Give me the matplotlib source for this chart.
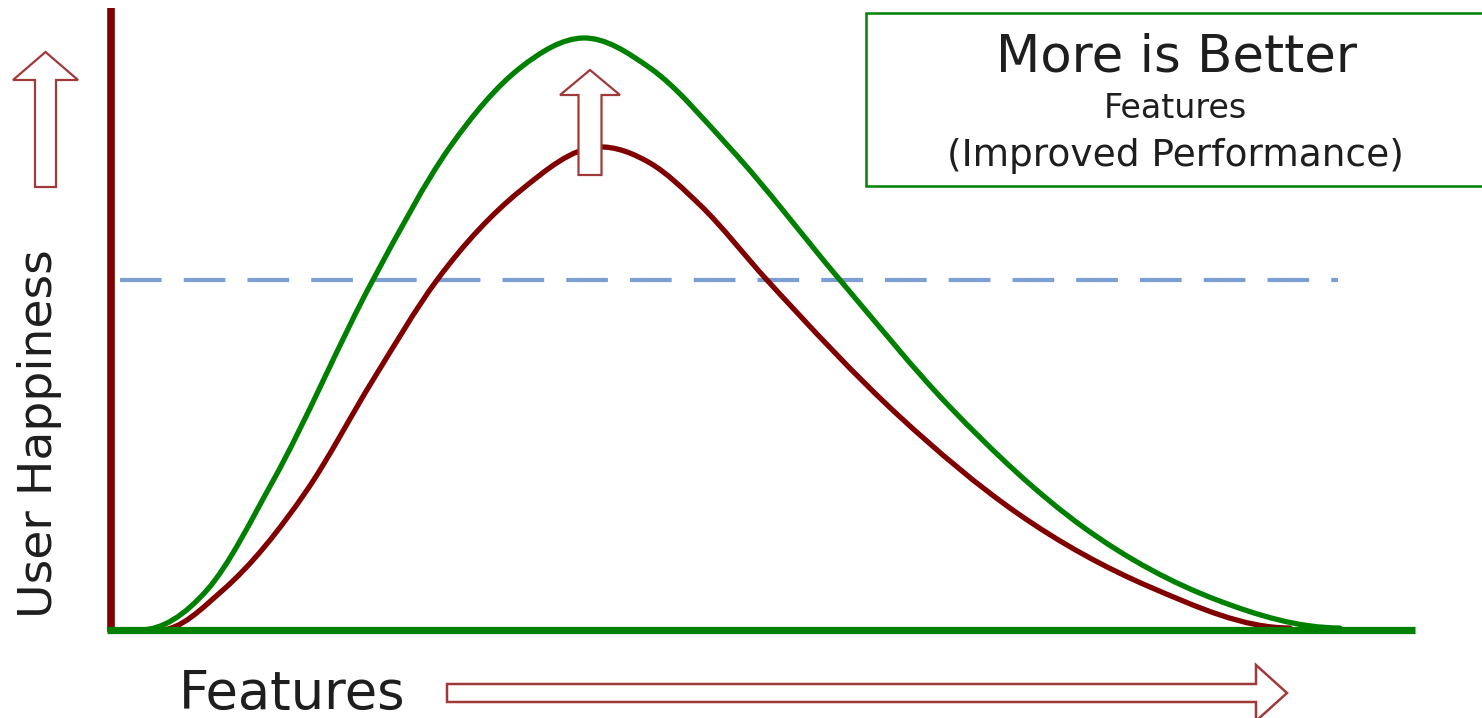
import matplotlib.pyplot as plt
from matplotlib.patches import Polygon, Rectangle, PathPatch
from matplotlib.path import Path
from matplotlib.transforms import IdentityTransform

plt.rcParams['font.family'] = ['DejaVu Sans']

# features vs. happiness (x: 0-100, y: 0-100)
features_old = [3.39, 8.25, 14.73, 19.81, 24.75, 31.15, 37.16, 41.17, 45.03,
                50.19, 60.45, 69.47, 79.72, 90.52]
happiness_old = [0.0, 6.47, 22.65, 40.45, 56.63, 71.04, 78.16, 75.57, 68.77,
                 56.63, 34.47, 18.93, 6.96, 0.32]

features_new = [1.85, 7.02, 12.10, 19.81, 25.75, 31.15, 36.01, 41.17, 47.34,
                55.82, 64.30, 74.56, 84.89, 94.37]
happiness_new = [0.0, 6.47, 24.11, 56.63, 78.16, 90.94, 95.79, 90.94, 77.99,
                 56.63, 36.08, 16.67, 4.85, 0.32]

threshold = 56.6

W, H = 1482, 718
DARK_RED = '#800000'
GREEN = '#008000'
ARROW_EDGE = '#a03a3a'
TEXT = '#1e1e1e'

fig = plt.figure(figsize=(W / 100, H / 100), dpi=100)
ax = fig.add_axes([0, 0, 1, 1])
ax.set_xlim(-8.944, 105.32)
ax.set_ylim(-14.24, 101.94)
ax.axis('off')


def smooth_path(xs, ys):
    # cubic Hermite through the read points, drawn as Bezier segments
    n = len(xs)
    h = [xs[i + 1] - xs[i] for i in range(n - 1)]
    d = [(ys[i + 1] - ys[i]) / h[i] for i in range(n - 1)]
    m = [0.0] * n
    for i in range(1, n - 1):
        m[i] = (h[i] * d[i - 1] + h[i - 1] * d[i]) / (h[i - 1] + h[i])
    verts = [(xs[0], ys[0])]
    codes = [Path.MOVETO]
    for i in range(n - 1):
        verts += [(xs[i] + h[i] / 3, ys[i] + m[i] * h[i] / 3),
                  (xs[i + 1] - h[i] / 3, ys[i + 1] - m[i + 1] * h[i] / 3),
                  (xs[i + 1], ys[i + 1])]
        codes += [Path.CURVE4] * 3
    return Path(verts, codes)


def px(x, y):
    # image pixels (y down) -> display pixels
    return (x, H - y)


def up_arrow(tip_x, tip_y, head_y, head_hw, shaft_hw, bottom_y):
    pts = [(tip_x, tip_y), (tip_x + head_hw, head_y), (tip_x + shaft_hw, head_y),
           (tip_x + shaft_hw, bottom_y), (tip_x - shaft_hw, bottom_y),
           (tip_x - shaft_hw, head_y), (tip_x - head_hw, head_y)]
    return Polygon([px(*p) for p in pts], closed=True, transform=IdentityTransform(),
                   facecolor='white', edgecolor=ARROW_EDGE, lw=1.6, joinstyle='miter')


def right_arrow(tail_x, mid_y, head_x, tip_x, head_hw, shaft_hw):
    pts = [(tip_x, mid_y), (head_x, mid_y - head_hw), (head_x, mid_y - shaft_hw),
           (tail_x, mid_y - shaft_hw), (tail_x, mid_y + shaft_hw),
           (head_x, mid_y + shaft_hw), (head_x, mid_y + head_hw)]
    return Polygon([px(*p) for p in pts], closed=True, transform=IdentityTransform(),
                   facecolor='white', edgecolor=ARROW_EDGE, lw=1.8, joinstyle='miter')


# threshold line
ax.hlines(threshold, 0.3, 94.2, colors='#7b9fd4', lw=3, linestyles=(0, (10, 5.3)),
          capstyle='butt', zorder=1)

# curves
ax.add_patch(PathPatch(smooth_path(features_old, happiness_old), fill=False,
                       edgecolor=DARK_RED, lw=3.8, capstyle='round', zorder=2))
fig.patches.append(up_arrow(590, 70, 95, 30, 11.5, 175))
ax.add_patch(PathPatch(smooth_path(features_new, happiness_new), fill=False,
                       edgecolor=GREEN, lw=3.8, capstyle='round', zorder=4))

# axes lines
ax.vlines(-0.39, -0.3, 100.6, colors=DARK_RED, lw=5.5, zorder=5)
ax.hlines(0, -0.69, 100.15, colors=GREEN, lw=5.2, zorder=6)

# decorative arrows
fig.patches.append(up_arrow(45.5, 52, 80, 32.5, 10.5, 187))
fig.patches.append(right_arrow(447, 693, 1256, 1287, 28, 9))

# labels
fig.text(40 / W, 1 - 434 / H, 'User Happiness', rotation=90, ha='center', va='center',
         fontsize=34, color=TEXT)
fig.text(292 / W, 1 - 688 / H, 'Features', ha='center', va='center_baseline',
         fontsize=38, color=TEXT)

# legend box
fig.patches.append(Rectangle(px(866, 186), 700, 173, transform=IdentityTransform(),
                             facecolor='white', edgecolor=GREEN, lw=1.8))
fig.text(1177 / W, 1 - 52 / H, 'More is Better', ha='center', va='center_baseline',
         fontsize=37, color=TEXT)
fig.text(1175 / W, 1 - 105 / H, 'Features', ha='center', va='center_baseline',
         fontsize=24, color=TEXT)
fig.text(1175 / W, 1 - 152 / H, '(Improved Performance)', ha='center',
         va='center_baseline', fontsize=27, color=TEXT)

fig.savefig('out.png', dpi=100)
